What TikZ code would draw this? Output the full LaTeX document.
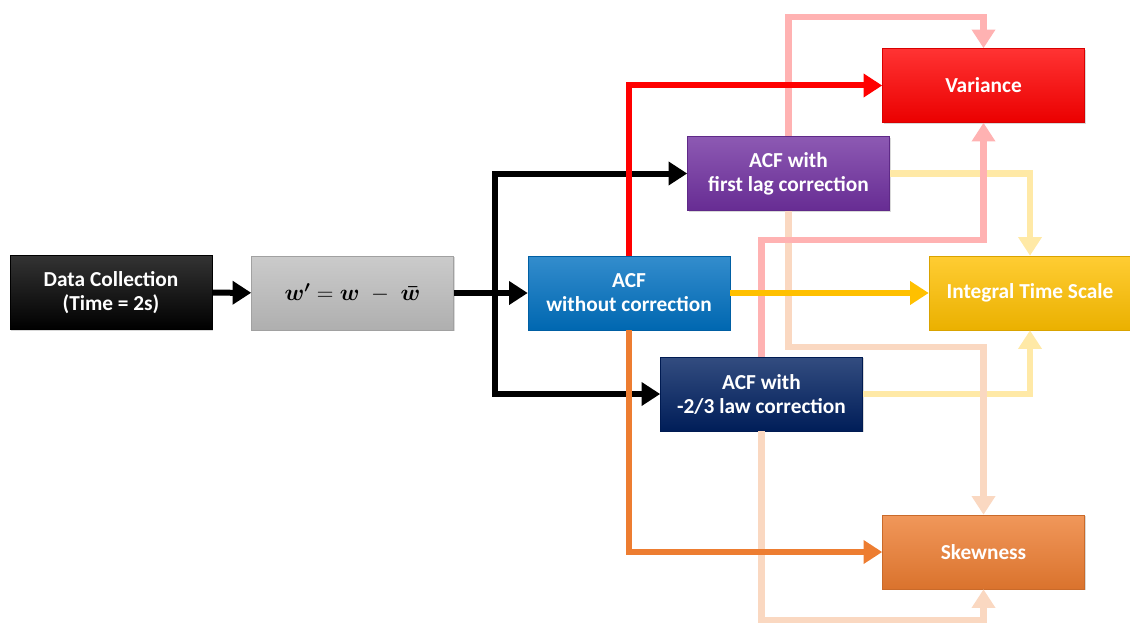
\documentclass[tikz,border=0pt]{standalone}
\usepackage{amsmath}
\usepackage{fontspec}
\setmainfont{Carlito}
\usetikzlibrary{arrows.meta,shadows}

\definecolor{acfblue}{RGB}{0,112,192}
\definecolor{lagpurple}{RGB}{112,48,160}
\definecolor{lawnavy}{RGB}{0,32,96}
\definecolor{varred}{RGB}{255,0,0}
\definecolor{itsgold}{RGB}{255,192,0}
\definecolor{skeworange}{RGB}{237,125,49}
\definecolor{devgray}{RGB}{190,190,190}

\tikzset{
	stage/.style={rectangle,align=center,text=white,
		font=\fontsize{16}{18}\selectfont\bfseries,
		minimum width=151.5pt,minimum height=55.5pt,inner sep=0pt,
		top color=#1!80!white,middle color=#1,bottom color=#1!92!black,
		draw=#1!85!black,line width=0.4pt,
		drop shadow={opacity=0.3,shadow xshift=1pt,shadow yshift=-1pt}},
	flow/.style={line width=#1,-{Triangle[length=14pt,width=17pt]}},
	flow/.default=4.5pt,
	faint/.style={flow=5pt,color=#1},
}

\begin{document}
\begin{tikzpicture}[x=0.75pt,y=-0.75pt]

\useasboundingbox (0,0) rectangle (1130,624);

% blocks
\node[stage=black] (data) at (111,292.5) {Data Collection\\(Time = 2s)};
\node[stage=devgray,text=black,font=\fontsize{17}{20}\selectfont] (dev) at (352.5,293) {$\boldsymbol{w}^{\boldsymbol{\prime}} = \boldsymbol{w} \;-\; \boldsymbol{\bar{w}}$};
\node[stage=acfblue] (acf) at (629,293) {ACF\\without correction};
\node[stage=lagpurple] (lag) at (788.5,173.5) {ACF with\\first lag correction};
\node[stage=lawnavy] (law) at (761.5,394) {ACF with\\-2/3 law correction};

\node[stage=varred] (var) at (983.5,85.5) {Variance};
\node[stage=itsgold] (its) at (1030,293) {Integral Time Scale};
\node[stage=skeworange] (skew) at (983.5,552) {Skewness};

% levels for the faint routes
\coordinate (top) at (0,17);
\coordinate (upper) at (0,240);
\coordinate (lower) at (0,347);
\coordinate (bottom) at (0,620);
\coordinate (split) at (495,293);

% from the corrected ACFs
\draw[faint=itsgold!35!white] (lag.east) -| (its.north);
\draw[faint=itsgold!35!white] (law.east) -| (its.south);
\draw[faint=skeworange!30!white] (lag.south) -- (lag.south |- lower) -| (skew.north);
\draw[faint=skeworange!30!white] (law.south) -- (law.south |- bottom) -| (skew.south);
\draw[faint=varred!30!white] (lag.north) -- (lag.north |- top) -| (var.north);
\draw[faint=varred!30!white] (law.north) -- (law.north |- upper) -| (var.south);

% black chain
\draw[flow] (data) -- (dev);
\draw[flow] (dev) -- (acf);
\draw[flow] (split) |- (lag.west);
\draw[flow] (split) |- (law.west);

% from ACF without correction
\draw[flow,color=varred] (acf.north) |- (var.west);
\draw[flow,color=skeworange] (acf.south) |- (skew.west);
\draw[flow,color=itsgold] (acf.east) -- (its.west);

\end{tikzpicture}
\end{document}
